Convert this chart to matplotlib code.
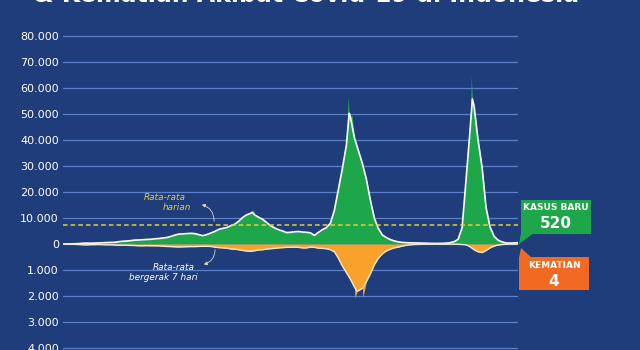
import pandas as pd
import matplotlib
matplotlib.use("Agg")
import matplotlib.pyplot as plt
from matplotlib.patches import Rectangle, Polygon

# rata-rata bergerak 7 hari, per minggu mulai 2 Maret 2020
kasus_7hari = [
    2, 20, 60, 100, 150, 300, 330, 300, 350, 400, 480, 550, 600,
    650, 900, 1050, 1150, 1300, 1500, 1550, 1650, 1750, 1800, 2000, 2100, 2300, 2500,
    2900, 3400, 3800, 3900, 4000, 4100, 4000, 3600, 3200, 3600, 4200, 4800, 5600,
    6000, 6300, 7000, 7600,
    # 2021
    8700, 10200, 11200, 11800, 11200, 10300, 9500, 8300, 7000, 6200, 5500, 5000, 4400,
    4500, 4700, 4800, 4600, 4500, 4300, 3300, 4500, 5500, 6300, 8000, 13000, 21000,
    29000, 38000, 49000, 41000, 36000, 31000, 25000, 17000, 10000, 6000, 3500, 2500, 1700,
    1200, 800, 600, 500, 450, 400, 380, 350, 300, 250, 220, 220, 250,
    # 2022
    300, 500, 900, 1800, 6300, 25000, 44000, 53000, 40000, 29500, 14000, 6500, 3000,
    1500, 800, 400, 350, 400, 520,
]
kematian_7hari = [
    0, 1, 5, 12, 20, 30, 35, 25, 25, 20, 25, 30, 30,
    40, 45, 45, 50, 55, 60, 70, 70, 65, 70, 70, 75, 85, 95,
    100, 110, 115, 110, 105, 100, 100, 95, 90, 90, 95, 120, 140,
    150, 160, 190, 200,
    # 2021
    220, 250, 270, 280, 260, 230, 220, 200, 180, 170, 150, 140, 130,
    125, 120, 130, 150, 150, 120, 130, 160, 170, 180, 220, 300, 550,
    850, 1100, 1350, 1650, 1800, 1700, 1450, 1150, 800, 550, 380, 270, 200,
    150, 120, 80, 50, 30, 20, 15, 10, 8, 7, 6, 6, 6,
    # 2022
    6, 6, 7, 10, 20, 30, 110, 220, 300, 330, 250, 150, 80,
    40, 20, 12, 8, 6, 4,
]

# titik puncak rata-rata
puncak_tgl = ["2021-01-28", "2021-07-17", "2022-02-18"]
puncak_kasus = [12200, 50300, 55800]
puncak_kematian_tgl = ["2021-07-31"]
puncak_kematian = [1820]

# lonjakan harian
lonjakan_tgl = ["2021-01-30", "2021-07-15", "2021-07-22", "2022-02-16"]
lonjakan_kasus = [13600, 56757, 49500, 64718]
lonjakan_kematian_tgl = ["2021-07-27", "2021-08-10"]
lonjakan_kematian = [2069, 2048]

rata_rata_harian = 7400

y_ticks = [80000, 70000, 60000, 50000, 40000, 30000, 20000, 10000, 0,
           -10000, -20000, -30000, -40000]
y_labels = ["80.000", "70.000", "60.000", "50.000", "40.000", "30.000", "20.000",
            "10.000", "0", "1.000", "2.000", "3.000", "4.000"]

bg = "#1f3d7b"
grid_c = "#5b80c8"
green = "#1ea64b"
orange = "#f8a22c"
box_orange = "#f26a22"
yellow = "#e3cf3a"

minggu = pd.date_range("2020-03-02", periods=len(kasus_7hari), freq="7D")
garis_kasus = pd.concat([pd.Series(kasus_7hari, index=minggu),
                         pd.Series(puncak_kasus, index=pd.to_datetime(puncak_tgl))]).sort_index()
garis_mati = pd.concat([pd.Series(kematian_7hari, index=minggu),
                        pd.Series(puncak_kematian, index=pd.to_datetime(puncak_kematian_tgl))]).sort_index()
area_kasus = pd.concat([garis_kasus,
                        pd.Series(lonjakan_kasus, index=pd.to_datetime(lonjakan_tgl))]).sort_index()
area_mati = pd.concat([garis_mati,
                       pd.Series(lonjakan_kematian, index=pd.to_datetime(lonjakan_kematian_tgl))]).sort_index()

fig = plt.figure(figsize=(6.4, 3.5), dpi=100, facecolor=bg)
ax = fig.add_axes([63 / 640, 0, (518 - 63) / 640, 320 / 350])
ax.set_facecolor(bg)

for t in y_ticks:
    ax.axhline(t, color=grid_c, lw=0.9, zorder=0)

ax.fill_between(area_kasus.index, 0, area_kasus.values, color=green, lw=0, zorder=2)
ax.fill_between(area_mati.index, 0, -area_mati.values * 10, color=orange, lw=0, zorder=2)
ax.plot(garis_kasus.index, garis_kasus.values, color="white", lw=1.2, zorder=3)
ax.plot(garis_mati.index, -garis_mati.values * 10, color="#f3ead8", lw=1.0, zorder=3)
ax.axhline(rata_rata_harian, color=yellow, lw=1.1, ls=(0, (3, 2)), zorder=4)

ax.set_xlim(minggu[0], minggu[-1])
ax.set_ylim(-40769, 82308)
ax.set_yticks(y_ticks)
ax.set_yticklabels(y_labels, color="white", fontsize=8)
ax.tick_params(axis="y", length=0, pad=3)
ax.set_xticks([])
for s in ax.spines.values():
    s.set_visible(False)

fig.text(306 / 640, 1 - 1.5 / 350, "& Kematian Akibat Covid-19 di Indonesia",
         ha="center", va="baseline", fontsize=17, weight="bold", color="white")

# lapisan anotasi dalam piksel
ov = fig.add_axes([0, 0, 1, 1], zorder=5)
ov.set_xlim(0, 640)
ov.set_ylim(350, 0)
ov.axis("off")
ov.patch.set_alpha(0)

ov.text(165, 197, "Rata-rata", ha="center", va="center", style="italic", color=yellow, fontsize=6.4)
ov.text(177, 207, "harian", ha="center", va="center", style="italic", color=yellow, fontsize=6.4)
ov.annotate("", xy=(199, 204), xytext=(214, 224),
            arrowprops=dict(arrowstyle="-|>", color="#d9d6c4", lw=0.6, mutation_scale=5,
                            connectionstyle="arc3,rad=0.45"))
ov.text(174, 267, "Rata-rata", ha="center", va="center", style="italic", color="white", fontsize=6.4)
ov.text(163, 278, "bergerak 7 hari", ha="center", va="center", style="italic", color="white", fontsize=6.4)
ov.annotate("", xy=(201, 265), xytext=(215, 247),
            arrowprops=dict(arrowstyle="-|>", color="#d9d6c4", lw=0.6, mutation_scale=5,
                            connectionstyle="arc3,rad=-0.45"))

ov.add_patch(Rectangle((521, 200), 70, 34, color=green, lw=0))
ov.add_patch(Polygon([(521, 233), (534, 233), (519, 244)], color=green, lw=0))
ov.text(556, 208, "KASUS BARU", ha="center", va="center", color="white", fontsize=6.5, weight="bold")
ov.text(556, 224, f"{kasus_7hari[-1]:,}".replace(",", "."), ha="center", va="center",
        color="white", fontsize=11, weight="bold")

ov.add_patch(Rectangle((519, 257), 70, 33, color=box_orange, lw=0))
ov.add_patch(Polygon([(519, 258), (532, 258), (521, 248)], color=box_orange, lw=0))
ov.text(554, 265, "KEMATIAN", ha="center", va="center", color="white", fontsize=6.5, weight="bold")
ov.text(554, 281, str(kematian_7hari[-1]), ha="center", va="center",
        color="white", fontsize=11, weight="bold")

fig.savefig("out.png", dpi=100, facecolor=bg)
